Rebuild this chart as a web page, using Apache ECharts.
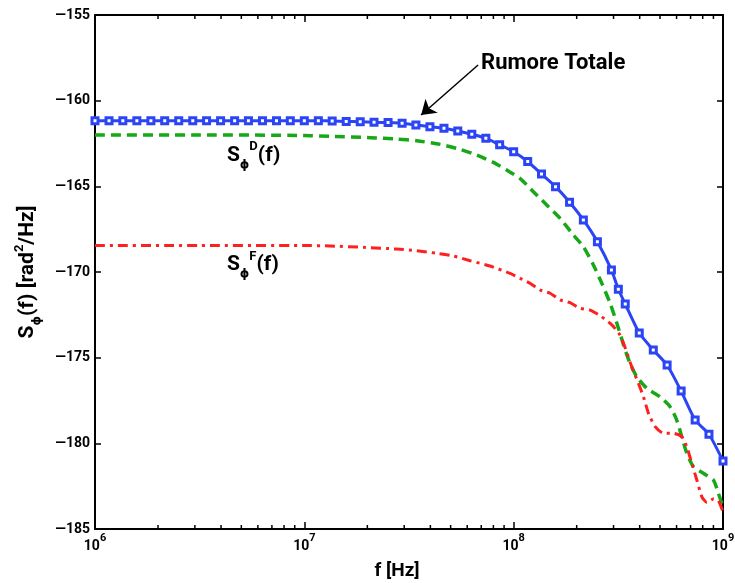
<!DOCTYPE html>
<html>
<head>
<meta charset="utf-8">
<script src="https://cdn.jsdelivr.net/npm/echarts@6/dist/echarts.min.js"></script>
<style>
html, body { margin: 0; padding: 0; background: #fff; }
#chart { width: 735px; height: 583px; }
</style>
</head>
<body>
<div id="chart"></div>
<script>
// frequencies are stored as log10(f) (the x axis is drawn as decades), values in dB rad^2/Hz
var totalLogF = [6.0, 6.067, 6.133, 6.2, 6.267, 6.333, 6.4, 6.467, 6.533, 6.6, 6.667, 6.733, 6.8, 6.867, 6.933,
    7.0, 7.067, 7.133, 7.2, 7.267, 7.333, 7.4, 7.467, 7.533, 7.6, 7.667, 7.733, 7.8, 7.867, 7.933,
    8.0, 8.067, 8.133, 8.2, 8.267, 8.333, 8.4, 8.467, 8.5, 8.533, 8.6, 8.667, 8.733, 8.8, 8.867, 8.933, 9.0];
var totalVal = [-161.17, -161.17, -161.17, -161.17, -161.17, -161.17, -161.17, -161.17, -161.17, -161.17, -161.17, -161.17, -161.17, -161.17, -161.17,
    -161.17, -161.17, -161.18, -161.21, -161.23, -161.26, -161.28, -161.32, -161.42, -161.52, -161.61, -161.77, -161.96, -162.19, -162.58,
    -162.98, -163.55, -164.28, -165.02, -165.93, -166.96, -168.23, -169.88, -171.01, -171.87, -173.56, -174.55, -175.43, -176.95, -178.64, -179.47, -181.03];

var dLogF = [6.0, 6.5, 7.0, 7.123, 7.314, 7.441, 7.537, 7.648, 7.744, 7.824, 7.903, 7.967, 8.031, 8.094, 8.158,
    8.222, 8.285, 8.333, 8.381, 8.421, 8.461, 8.493, 8.53, 8.556, 8.588, 8.636, 8.699, 8.747, 8.779, 8.803,
    8.827, 8.859, 8.906, 8.954, 8.978, 9.0];
var dVal = [-162.0, -162.0, -162.03, -162.08, -162.16, -162.24, -162.34, -162.55, -162.84, -163.17, -163.6, -164.05, -164.55, -165.31, -166.09,
    -166.87, -167.84, -168.52, -169.59, -170.66, -171.83, -172.99, -174.45, -175.33, -176.11, -176.79, -177.28, -177.86, -178.64, -179.61,
    -180.58, -181.36, -181.75, -182.14, -182.92, -183.7];

var fLogF = [6.0, 6.5, 7.0, 7.123, 7.282, 7.441, 7.537, 7.633, 7.712, 7.792, 7.887, 7.983, 8.031, 8.078, 8.126,
    8.174, 8.222, 8.269, 8.317, 8.365, 8.413, 8.469, 8.508, 8.532, 8.564, 8.596, 8.62, 8.644, 8.676, 8.715,
    8.763, 8.803, 8.827, 8.851, 8.875, 8.899, 8.923, 8.954, 8.978, 9.0];
var fVal = [-168.45, -168.45, -168.45, -168.48, -168.56, -168.66, -168.76, -168.91, -169.07, -169.34, -169.65, -170.08, -170.37, -170.66, -171.05,
    -171.24, -171.63, -171.79, -172.12, -172.22, -172.55, -173.09, -173.68, -174.4, -175.53, -176.5, -177.28, -178.25, -179.03, -179.41,
    -179.41, -179.61, -180.2, -181.17, -182.14, -183.12, -183.45, -183.25, -183.35, -184.0];

var yMin = -185, yMax = -155;

function toPairs(logf, vals) {
    return logf.map(function (e, i) { return [e, vals[i]]; });
}

// minor ticks at 2..9 x 10^n, expressed in decades
var minorTicks = [];
for (var d = 6; d < 9; d++) {
    for (var k = 2; k <= 9; k++) minorTicks.push([d + Math.log10(k), yMin]);
}

var FONT = 'Roboto';
var BLUE = '#2b45f5';
var GREEN = '#17a817';
var RED = '#ff1f1f';

var richText = {
    s: { fontFamily: FONT, fontSize: 21, fontWeight: 'bold', color: '#000', lineHeight: 30, verticalAlign: 'middle' },
    sub: { fontFamily: 'DejaVu Sans', fontSize: 12, fontWeight: 'bold', color: '#000', lineHeight: 12, verticalAlign: 'bottom' },
    sup: { fontFamily: FONT, fontSize: 13, fontWeight: 'bold', color: '#000', lineHeight: 13, verticalAlign: 'top' }
};

var myChart = echarts.init(document.getElementById('chart'));

function xAxisBase(pos) {
    return {
        type: 'value',
        position: pos,
        min: 6,
        max: 9,
        interval: 1,
        axisLine: { show: true, onZero: false, lineStyle: { color: '#000', width: 2 } },
        axisTick: { show: true, inside: true, length: 7, lineStyle: { color: '#000', width: 1.5 } },
        axisLabel: { show: false },
        splitLine: { show: false }
    };
}

var xMain = xAxisBase('bottom');
xMain.axisLabel = {
    show: true,
    margin: 4,
    formatter: function (v) {
        return '{b|10}{e|' + Math.round(v) + '}';
    },
    rich: {
        b: { fontFamily: FONT, fontSize: 14, fontWeight: 'bold', color: '#000', lineHeight: 20, verticalAlign: 'bottom' },
        e: { fontFamily: FONT, fontSize: 11, fontWeight: 'bold', color: '#000', lineHeight: 11, verticalAlign: 'top' }
    }
};
xMain.name = 'f [Hz]';
xMain.nameLocation = 'middle';
xMain.nameGap = 33;
xMain.nameTextStyle = { fontFamily: FONT, fontSize: 19, fontWeight: 'bold', color: '#000', padding: [0, 24, 0, 0] };

function yAxisBase(pos) {
    return {
        type: 'value',
        position: pos,
        min: yMin,
        max: yMax,
        interval: 5,
        axisLine: { show: true, onZero: false, lineStyle: { color: '#000', width: 2 } },
        axisTick: { show: true, inside: true, length: 6, lineStyle: { color: '#000', width: 1.5 } },
        axisLabel: { show: false },
        splitLine: { show: false }
    };
}

var yMain = yAxisBase('left');
yMain.axisLabel = {
    show: true,
    margin: 5,
    fontFamily: FONT,
    fontSize: 14,
    fontWeight: 'bold',
    color: '#000',
    formatter: function (v) { return String(v).replace('-', '\u2014'); }
};
yMain.name = '{s|S}{sub|\u03d5}{s|(f) [rad}{sup|2}{s|/Hz]}';
yMain.nameLocation = 'middle';
yMain.nameGap = 52;
yMain.nameTextStyle = { rich: richText };

myChart.setOption({
    backgroundColor: '#fff',
    animation: false,
    grid: { left: 95, right: 12, top: 15, bottom: 54, outerBoundsMode: 'none', containLabel: false },
    xAxis: [xMain, xAxisBase('top')],
    yAxis: [yMain, yAxisBase('right')],
    series: [
        {
            // minor log ticks on the bottom and top edges, placed by the x scale
            name: 'minorTicks',
            type: 'custom',
            silent: true,
            clip: false,
            data: minorTicks,
            renderItem: function (params, api) {
                var b = api.coord([api.value(0), yMin]);
                var t = api.coord([api.value(0), yMax]);
                var st = { stroke: '#000', lineWidth: 1.5 };
                return {
                    type: 'group',
                    children: [
                        { type: 'line', shape: { x1: b[0], y1: b[1], x2: b[0], y2: b[1] - 4 }, style: st },
                        { type: 'line', shape: { x1: t[0], y1: t[1], x2: t[0], y2: t[1] + 4 }, style: st }
                    ]
                };
            }
        },
        {
            name: 'SD',
            type: 'line',
            data: toPairs(dLogF, dVal),
            showSymbol: false,
            smooth: 0.2,
            lineStyle: { color: GREEN, width: 3.5, type: [10, 6] },
            markPoint: {
                silent: true,
                symbol: 'circle',
                symbolSize: 0,
                label: {
                    show: true,
                    position: 'right',
                    distance: 0,
                    formatter: '{s|S}{sub|\u03d5}{sup|D}{s|(f)}',
                    rich: richText
                },
                data: [{ coord: [6.63, -163.2] }]
            }
        },
        {
            name: 'SF',
            type: 'line',
            data: toPairs(fLogF, fVal),
            showSymbol: false,
            smooth: 0.2,
            lineStyle: { color: RED, width: 3, type: [10, 5, 3, 5] },
            markPoint: {
                silent: true,
                symbol: 'circle',
                symbolSize: 0,
                label: {
                    show: true,
                    position: 'right',
                    distance: 0,
                    formatter: '{s|S}{sub|\u03d5}{sup|F}{s|(f)}',
                    rich: richText
                },
                data: [{ coord: [6.63, -169.59] }]
            }
        },
        {
            name: 'Rumore Totale',
            type: 'line',
            data: toPairs(totalLogF, totalVal),
            symbol: 'rect',
            symbolSize: 6,
            showSymbol: true,
            smooth: 0.2,
            itemStyle: { color: '#fff', borderColor: BLUE, borderWidth: 3 },
            lineStyle: { color: BLUE, width: 3 },
            markLine: {
                silent: true,
                symbol: ['none', 'arrow'],
                symbolSize: 14,
                label: { show: false },
                lineStyle: { color: '#000', width: 1.5, type: 'solid' },
                data: [[{ coord: [7.83, -157.92] }, { coord: [7.558, -160.84] }]]
            },
            markPoint: {
                silent: true,
                symbol: 'circle',
                symbolSize: 0,
                label: {
                    show: true,
                    position: 'right',
                    distance: 3,
                    formatter: 'Rumore Totale',
                    fontFamily: FONT,
                    fontSize: 22,
                    fontWeight: 'bold',
                    color: '#000'
                },
                data: [{ coord: [7.83, -157.83] }]
            }
        }
    ]
});

window.addEventListener('resize', function () {
    myChart.resize();
});
</script>
</body>
</html>
